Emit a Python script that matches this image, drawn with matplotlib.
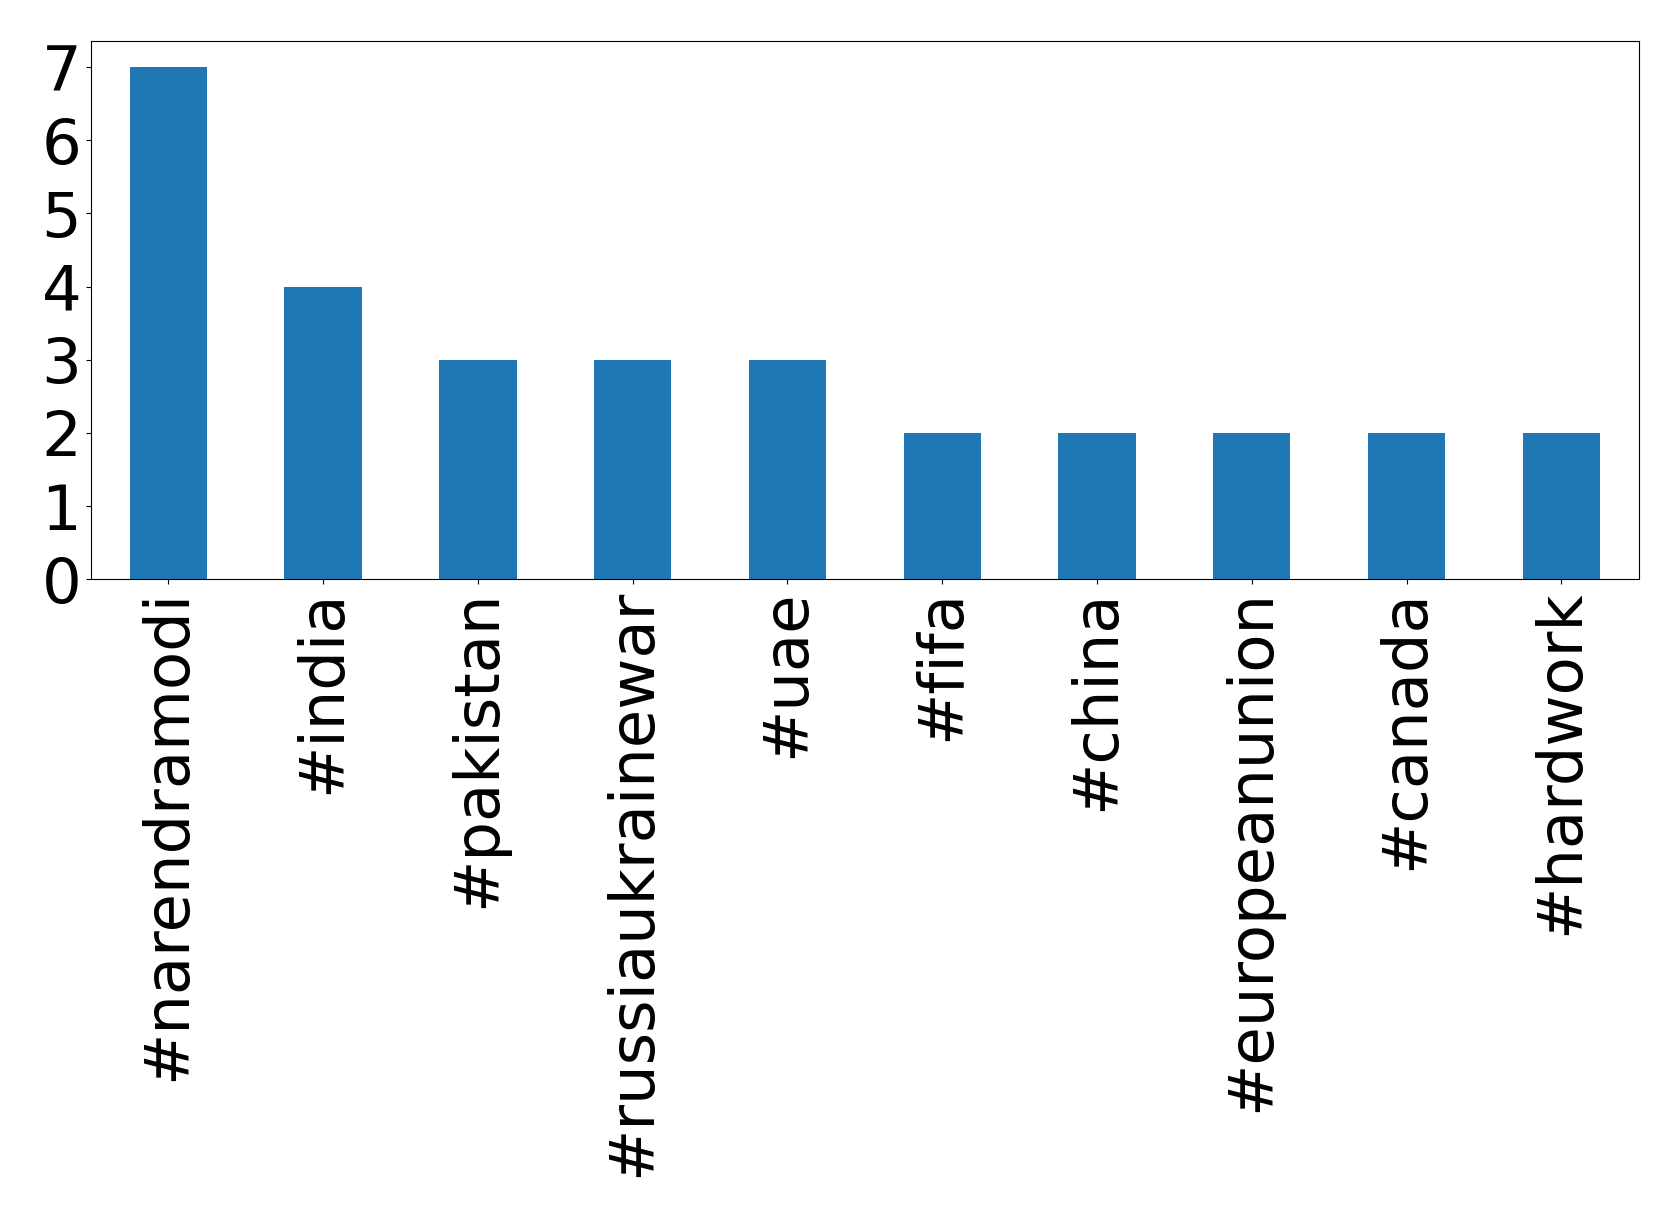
import matplotlib
matplotlib.use("Agg")
import matplotlib.pyplot as plt

categories = ["#narendramodi", "#india", "#pakistan", "#russiaukrainewar", "#uae",
              "#fifa", "#china", "#europeanunion", "#canada", "#hardwork"]
counts = [7, 4, 3, 3, 3, 2, 2, 2, 2, 2]

fig = plt.figure(figsize=(16.79, 12.17), dpi=100)
ax = fig.add_axes([0.0542, 0.524, 0.9218, 0.442])
x = list(range(len(categories)))
ax.bar(x, counts, width=0.5, color="#1f77b4")
ax.set_xlim(-0.5, len(categories) - 0.5)
ax.set_ylim(0, 7 * 1.05)
ax.set_xticks(x)
ax.set_xticklabels(categories, rotation=90, fontsize=45)
ax.set_yticks(range(0, 8))
ax.tick_params(axis="y", labelsize=45)
fig.savefig("out.png", dpi=100)
